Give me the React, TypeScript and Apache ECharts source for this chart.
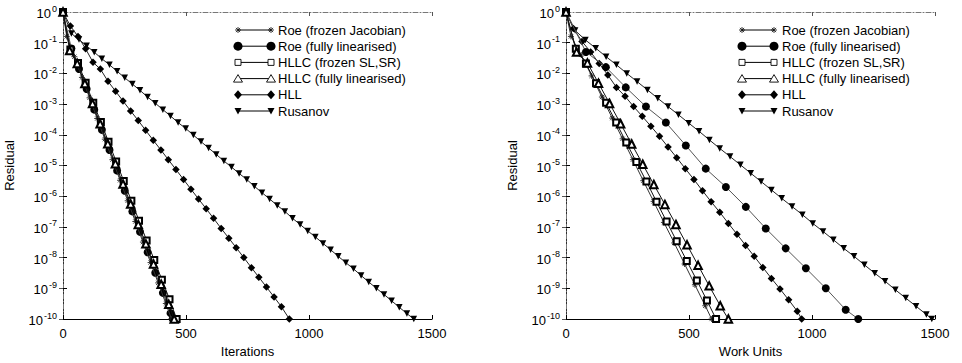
import React, { useEffect, useRef } from "react";
import * as echarts from "echarts";

type Pt = [number, number];

// ---------- tick values ----------
const xTickInterval = 500;
const xMax = 1500;
const yMin = 1e-10;
const yMax = 1;

// ---------- left panel: residual vs iterations ----------
const roeFrozenIter: Pt[] = [[0,1],[15,1.6e-1],[46,3.5e-2],[77,7.4e-3],[108,1.6e-3],[139,3.4e-4],[170,7.2e-5],[201,1.55e-5],[232,3.3e-6],[263,7.1e-7],[294,1.5e-7],[325,3.2e-8],[356,6.9e-9],[387,1.5e-9],[418,3.2e-10],[441,1.0e-10]];
const roeFullIter: Pt[] = [[0,1],[34,6.5e-2],[65,1.4e-2],[96,3.1e-3],[127,6.6e-4],[158,1.45e-4],[189,3.2e-5],[220,6.8e-6],[251,1.5e-6],[282,3.2e-7],[313,6.9e-8],[344,1.5e-8],[375,3.2e-9],[406,7.1e-10],[437,1.55e-10],[446,1.0e-10]];
const hllcFrozenIter: Pt[] = [[0,1],[30,6.0e-2],[61,2.2e-2],[92,5.0e-3],[123,1.1e-3],[154,2.6e-4],[185,5.9e-5],[216,1.35e-5],[247,3.1e-6],[278,7.1e-7],[309,1.6e-7],[340,3.6e-8],[371,8.3e-9],[402,1.9e-9],[433,4.4e-10],[462,1.0e-10]];
const hllcFullIter: Pt[] = [[0,1],[27,5.6e-2],[58,2.1e-2],[89,4.7e-3],[120,1.05e-3],[151,2.3e-4],[182,5.1e-5],[213,1.15e-5],[244,2.5e-6],[275,5.6e-7],[306,1.2e-7],[337,2.8e-8],[368,6.2e-9],[399,1.35e-9],[430,3.0e-10],[452,1.0e-10]];
const hllIter: Pt[] = [[0,1],[30,3.5e-1],[61,1.6e-1],[92,6.3e-2],[122,2.3e-2],[152,1.38e-2],[183,5.5e-3],[214,2.6e-3],[244,1.26e-3],[275,6.0e-4],[306,2.9e-4],[336,1.4e-4],[367,6.6e-5],[398,3.2e-5],[428,1.55e-5],[459,7.4e-6],[490,3.5e-6],[520,1.7e-6],[551,8.1e-7],[582,3.9e-7],[612,1.9e-7],[643,8.9e-8],[674,4.3e-8],[704,2.1e-8],[735,1.0e-8],[766,4.7e-9],[796,2.3e-9],[827,1.1e-9],[858,5.2e-10],[888,2.5e-10],[920,1.0e-10]];
const rusanovIter: Pt[] = [[0,1],[34,2.0e-1],[65,1.26e-1],[96,7.9e-2],[127,4.9e-2],[158,3.0e-2],[189,1.9e-2],[220,1.17e-2],[251,7.2e-3],[282,4.5e-3],[313,2.8e-3],[344,1.7e-3],[375,1.07e-3],[406,6.6e-4],[437,4.1e-4],[468,2.5e-4],[499,1.6e-4],[530,9.8e-5],[561,6.0e-5],[592,3.7e-5],[623,2.3e-5],[654,1.4e-5],[685,8.9e-6],[716,5.5e-6],[747,3.5e-6],[778,2.1e-6],[809,1.3e-6],[840,8.1e-7],[871,5.0e-7],[902,3.2e-7],[933,1.9e-7],[964,1.2e-7],[995,7.4e-8],[1026,4.7e-8],[1057,2.9e-8],[1088,1.8e-8],[1119,1.1e-8],[1150,6.8e-9],[1181,4.3e-9],[1212,2.6e-9],[1243,1.6e-9],[1274,1.0e-9],[1305,6.3e-10],[1336,3.9e-10],[1367,2.4e-10],[1398,1.5e-10],[1426,1.0e-10]];

// ---------- right panel: residual vs work units ----------
const roeFrozenWork: Pt[] = [[0,1],[20,1.6e-1],[62,4.0e-2],[104,8.3e-3],[146,1.7e-3],[188,3.5e-4],[230,7.4e-5],[272,1.55e-5],[314,3.2e-6],[356,6.8e-7],[398,1.4e-7],[440,3.0e-8],[482,6.2e-9],[524,1.3e-9],[566,2.7e-10],[592,1.0e-10]];
const roeFullWork: Pt[] = [[0,1],[81,5.0e-2],[162,1.6e-2],[243,3.5e-3],[325,8.3e-4],[406,2.5e-4],[487,4.5e-5],[568,7.9e-6],[650,2.0e-6],[731,4.5e-7],[812,8.9e-8],[893,2.0e-8],[975,4.5e-9],[1056,1.0e-9],[1137,2.0e-10],[1188,1.0e-10]];
const hllcFrozenWork: Pt[] = [[0,1],[40,6.3e-2],[81,2.1e-2],[122,4.8e-3],[163,1.1e-3],[204,2.5e-4],[245,5.6e-5],[286,1.3e-5],[327,3.0e-6],[368,6.6e-7],[409,1.5e-7],[450,3.4e-8],[491,7.8e-9],[532,1.8e-9],[573,4.0e-10],[610,1.0e-10]];
const hllcFullWork: Pt[] = [[0,1],[43,5.0e-2],[87,2.2e-2],[132,4.8e-3],[177,1.05e-3],[222,2.3e-4],[267,5.0e-5],[312,1.1e-5],[357,2.4e-6],[402,5.4e-7],[447,1.2e-7],[492,2.6e-8],[537,5.6e-9],[582,1.2e-9],[627,2.7e-10],[660,1.0e-10]];
const hllWork: Pt[] = [[0,1],[30,2.9e-1],[65,1.1e-1],[100,5.0e-2],[135,2.1e-2],[170,8.9e-3],[205,3.5e-3],[240,1.8e-3],[275,8.3e-4],[310,4.0e-4],[345,1.9e-4],[380,8.9e-5],[415,4.0e-5],[450,1.8e-5],[485,7.9e-6],[520,3.5e-6],[555,1.5e-6],[590,6.6e-7],[625,3.0e-7],[660,1.3e-7],[695,5.8e-8],[730,2.5e-8],[765,1.1e-8],[800,4.8e-9],[835,2.1e-9],[870,9.5e-10],[905,4.2e-10],[940,1.8e-10],[958,1.0e-10]];
const rusanovWork: Pt[] = [[0,1],[37,2.5e-1],[79,1.23e-1],[121,6.6e-2],[163,3.5e-2],[205,1.9e-2],[247,1.0e-2],[289,5.4e-3],[331,2.9e-3],[373,1.55e-3],[415,8.3e-4],[457,4.5e-4],[499,2.4e-4],[541,1.3e-4],[583,6.8e-5],[625,3.6e-5],[667,1.95e-5],[709,1.05e-5],[751,5.6e-6],[793,3.0e-6],[835,1.6e-6],[877,8.5e-7],[919,4.6e-7],[961,2.5e-7],[1003,1.3e-7],[1045,7.1e-8],[1087,3.8e-8],[1129,2.0e-8],[1171,1.1e-8],[1213,5.8e-9],[1255,3.1e-9],[1297,1.7e-9],[1339,8.9e-10],[1381,4.8e-10],[1423,2.6e-10],[1465,1.4e-10],[1487,1.0e-10]];

const seriesNames = {
  roeFrozen: "Roe (frozen Jacobian)",
  roeFull: "Roe (fully linearised)",
  hllcFrozen: "HLLC (frozen SL,SR)",
  hllcFull: "HLLC (fully linearised)",
  hll: "HLL",
  rusanov: "Rusanov",
};
const legendOrder = ["roeFrozen", "roeFull", "hllcFrozen", "hllcFull", "hll", "rusanov"] as const;
const drawOrder = ["rusanov", "hll", "roeFull", "roeFrozen", "hllcFrozen", "hllcFull"] as const;

const panels = [
  {
    xName: "Iterations",
    data: { roeFrozen: roeFrozenIter, roeFull: roeFullIter, hllcFrozen: hllcFrozenIter, hllcFull: hllcFullIter, hll: hllIter, rusanov: rusanovIter },
  },
  {
    xName: "Work Units",
    data: { roeFrozen: roeFrozenWork, roeFull: roeFullWork, hllcFrozen: hllcFrozenWork, hllcFull: hllcFullWork, hll: hllWork, rusanov: rusanovWork },
  },
];

// ---------- styling ----------
const FONT = '"Liberation Sans", Arial, Helvetica, sans-serif';
const ASTERISK = "path://M5 0L5 10M0 5L10 5M1.5 1.5L8.5 8.5M8.5 1.5L1.5 8.5";
const markerStyle: Record<string, any> = {
  roeFrozen: { symbol: ASTERISK, size: 6, rotate: 0, itemStyle: { color: "transparent", borderColor: "#222", borderWidth: 0.9 }, line: "#333" },
  roeFull: { symbol: "circle", size: 8, rotate: 0, itemStyle: { color: "#000", borderWidth: 0 }, line: "#555" },
  hllcFrozen: { symbol: "emptyRect", size: 6, rotate: 0, itemStyle: { color: "#000", borderWidth: 0.9 }, line: "#111" },
  hllcFull: { symbol: "emptyTriangle", size: 7.5, rotate: 0, itemStyle: { color: "#000", borderWidth: 0.9 }, line: "#111" },
  hll: { symbol: "diamond", size: 7.5, rotate: 0, itemStyle: { color: "#000", borderWidth: 0 }, line: "#222" },
  rusanov: { symbol: "triangle", size: 6.5, rotate: 180, itemStyle: { color: "#000", borderWidth: 0 }, line: "#222" },
};

const grids = [
  { left: 63, top: 12, width: 369, height: 307 },
  { left: 566, top: 12, width: 369, height: 307 },
];
const legendPos = [
  { x1: 238, x2: 271, tx: 278, y0: 30, dy: 16.2 },
  { x1: 742, x2: 774, tx: 782, y0: 30, dy: 16.2 },
];

function legendMarker(kind: string, cx: number, cy: number): any {
  const black = "#000";
  switch (kind) {
    case "roeFrozen":
      return {
        type: "group",
        children: [
          { type: "line", shape: { x1: cx - 3, y1: cy, x2: cx + 3, y2: cy }, style: { stroke: "#222", lineWidth: 0.9 } },
          { type: "line", shape: { x1: cx, y1: cy - 3, x2: cx, y2: cy + 3 }, style: { stroke: "#222", lineWidth: 0.9 } },
          { type: "line", shape: { x1: cx - 2.1, y1: cy - 2.1, x2: cx + 2.1, y2: cy + 2.1 }, style: { stroke: "#222", lineWidth: 0.9 } },
          { type: "line", shape: { x1: cx + 2.1, y1: cy - 2.1, x2: cx - 2.1, y2: cy + 2.1 }, style: { stroke: "#222", lineWidth: 0.9 } },
        ],
      };
    case "roeFull":
      return { type: "circle", shape: { cx, cy, r: 4.5 }, style: { fill: black } };
    case "hllcFrozen":
      return { type: "rect", shape: { x: cx - 3, y: cy - 3, width: 6, height: 6 }, style: { fill: "#fff", stroke: black, lineWidth: 0.9 } };
    case "hllcFull":
      return { type: "polygon", shape: { points: [[cx, cy - 4], [cx + 4.5, cy + 3.5], [cx - 4.5, cy + 3.5]] }, style: { fill: "#fff", stroke: black, lineWidth: 0.9 } };
    case "hll":
      return { type: "polygon", shape: { points: [[cx, cy - 4.5], [cx + 4, cy], [cx, cy + 4.5], [cx - 4, cy]] }, style: { fill: black } };
    default:
      return { type: "polygon", shape: { points: [[cx - 3.5, cy - 3], [cx + 3.5, cy - 3], [cx, cy + 3.5]] }, style: { fill: black } };
  }
}

function buildOption(): any {
  const xAxis: any[] = [];
  const yAxis: any[] = [];
  const series: any[] = [];
  const graphic: any[] = [];
  const mirrorLine = { color: "#777", width: 1, type: [5, 2, 1, 2] };

  panels.forEach((p, i) => {
    xAxis.push({
      gridIndex: i, type: "value", min: 0, max: xMax, interval: xTickInterval, position: "bottom",
      axisLine: { show: true, lineStyle: { color: "#000", width: 1 } },
      axisTick: { show: true, inside: true, length: 4, lineStyle: { color: "#000" } },
      axisLabel: { color: "#000", fontSize: 13, fontFamily: FONT, margin: 8, formatter: (v: number) => String(v) },
      splitLine: { show: false },
      name: p.xName, nameLocation: "middle", nameGap: 21,
      nameTextStyle: { color: "#000", fontSize: 13, fontFamily: FONT },
    });
    xAxis.push({
      gridIndex: i, type: "value", min: 0, max: xMax, interval: xTickInterval, position: "top",
      axisLine: { show: true, lineStyle: mirrorLine },
      axisTick: { show: true, inside: true, length: 4, lineStyle: { color: "#555" } },
      axisLabel: { show: false }, splitLine: { show: false },
    });
    yAxis.push({
      gridIndex: i, type: "log", logBase: 10, min: yMin, max: yMax, interval: 1, position: "left",
      axisLine: { show: true, lineStyle: { color: "#000", width: 1 } },
      axisTick: { show: true, inside: true, length: 4, lineStyle: { color: "#000" } },
      axisLabel: {
        margin: 6,
        formatter: (v: number) => `{a|10}{b|${Math.round(Math.log10(v))}}`,
        rich: {
          a: { fontSize: 13, fontFamily: FONT, color: "#000", verticalAlign: "bottom", lineHeight: 16 },
          b: { fontSize: 9, fontFamily: FONT, color: "#000", verticalAlign: "top", lineHeight: 16, padding: [0, 0, 0, 1] },
        },
      },
      splitLine: { show: false },
      name: "Residual", nameLocation: "middle", nameGap: 47, nameRotate: 90,
      nameTextStyle: { color: "#000", fontSize: 13, fontFamily: FONT },
    });
    yAxis.push({
      gridIndex: i, type: "log", logBase: 10, min: yMin, max: yMax, interval: 1, position: "right",
      axisLine: { show: true, lineStyle: mirrorLine },
      axisTick: { show: true, inside: true, length: 4, lineStyle: { color: "#555" } },
      axisLabel: { show: false }, splitLine: { show: false },
    });

    drawOrder.forEach((k, j) => {
      const m = markerStyle[k];
      series.push({
        type: "line", name: seriesNames[k], xAxisIndex: i * 2, yAxisIndex: i * 2,
        data: (p.data as any)[k], symbol: m.symbol, symbolSize: m.size, symbolRotate: m.rotate,
        showSymbol: true, clip: false, silent: true, z: 2 + j,
        lineStyle: { color: m.line, width: 1 }, itemStyle: m.itemStyle,
      });
    });

    const L = legendPos[i];
    legendOrder.forEach((k, r) => {
      const y = L.y0 + r * L.dy;
      graphic.push({ type: "line", shape: { x1: L.x1, y1: y, x2: L.x2, y2: y }, style: { stroke: "#000", lineWidth: 1 }, z: 10 });
      graphic.push({ ...legendMarker(k, L.x1, y), z: 11 });
      graphic.push({ ...legendMarker(k, L.x2, y), z: 11 });
      graphic.push({
        type: "text", x: L.tx, y, z: 11,
        style: { text: seriesNames[k], fill: "#000", font: `13px ${FONT}`, textVerticalAlign: "middle", textAlign: "left" },
      });
    });
  });

  return { animation: false, backgroundColor: "#fff", grid: grids, xAxis, yAxis, series, graphic };
}

export default function App() {
  const ref = useRef<HTMLDivElement>(null);
  useEffect(() => {
    if (!ref.current) return;
    const chart = echarts.init(ref.current, undefined, { renderer: "svg" });
    chart.setOption(buildOption());
    return () => chart.dispose();
  }, []);
  return <div ref={ref} style={{ position: "absolute", left: 0, top: 0, width: 962, height: 363, background: "#fff" }} />;
}
